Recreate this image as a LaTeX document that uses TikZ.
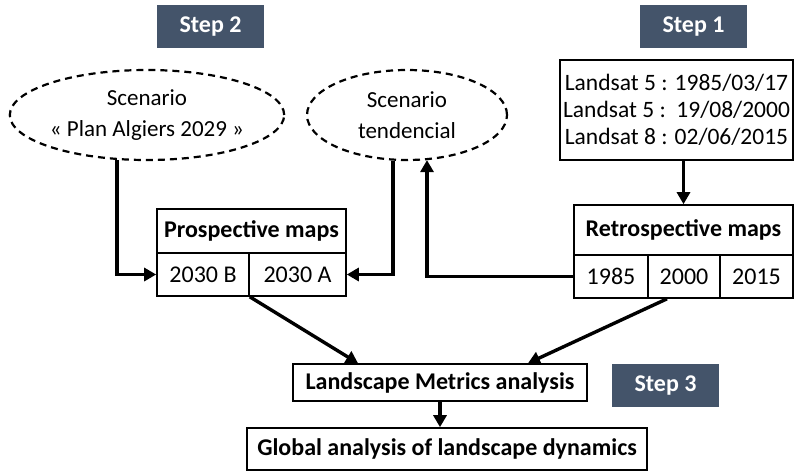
\documentclass[tikz,border=0pt]{standalone}
\usepackage{fontspec}
\setmainfont{Carlito}
\usetikzlibrary{arrows.meta,shapes.geometric,calc}
\definecolor{stepblue}{HTML}{44546A}
\begin{document}
\begin{tikzpicture}[x=1pt,y=-1pt,
  stepbox/.style={fill=stepblue,text=white,font=\fontsize{24}{26}\selectfont\bfseries,minimum width=107pt,minimum height=43pt,inner sep=0pt},
  cell/.style={draw,line width=1.6pt,inner sep=0pt,font=\fontsize{24}{27}\selectfont},
  hcell/.style={cell,font=\fontsize{24}{27}\selectfont\bfseries},
  scen/.style={ellipse,draw,line width=2.2pt,dash pattern=on 7pt off 5pt,align=center,inner sep=0pt,font=\fontsize{23}{31}\selectfont},
  arr/.style={-{Triangle[length=12pt,width=13pt]},line width=3.4pt}]
\useasboundingbox (0,0) rectangle (795,472);
% steps
\node[stepbox] (s2) at (210.5,26.5) {Step 2};
\node[stepbox] (s1) at (693.5,26.5) {Step 1};
\node[stepbox] (s3) at (665.5,385.5) {Step 3};
% scenarios
\node[scen,minimum width=268pt,minimum height=90pt] (e1) at (147,115) {Scenario\\« Plan Algiers 2029 »};
\node[scen,minimum width=200pt,minimum height=90pt] (e2) at (407,115) {Scenario\\tendencial};
% landsat
\node[cell,minimum width=233pt,minimum height=100pt,align=center,font=\fontsize{23.5}{27}\selectfont] (ls) at (676.5,110)
  {Landsat 5 : 1985/03/17\\Landsat 5 :\ \ 19/08/2000\\Landsat 8 : 02/06/2015};
% prospective maps
\node[hcell,minimum width=189pt,minimum height=44pt] (pm) at (251.5,231) {Prospective maps};
\node[cell,minimum width=92pt,minimum height=43pt] (pb) at (203,274.5) {2030 B};
\node[cell,minimum width=97pt,minimum height=43pt] (pa) at (297.5,274.5) {2030 A};
% retrospective maps
\node[hcell,minimum width=219pt,minimum height=50pt] (rm) at (683.5,230) {Retrospective maps};
\node[cell,minimum width=74pt,minimum height=43pt] (r85) at (611,276.5) {1985};
\node[cell,minimum width=72pt,minimum height=43pt] (r00) at (684,276.5) {2000};
\node[cell,minimum width=73pt,minimum height=43pt] (r15) at (756.5,276.5) {2015};
% analysis
\node[hcell,minimum width=294pt,minimum height=37pt] (lm) at (440,382.5) {Landscape Metrics analysis};
\node[hcell,minimum width=400pt,minimum height=42pt] (gl) at (447,449) {Global analysis of landscape dynamics};
% connectors
\draw[arr] ($(e1.south)+(-30,-1)$) |- (pb.west);
\draw[arr] ($(e2.south)+(-14,0)$) |- (pa.east);
\draw[arr] (r85.west) -| ($(e2.south)+(20,-1)$);
\draw[arr] (rm.north |- ls.south) -- (rm.north);
\draw[arr] (pb.south east) -- ($(lm.north)+(-82,0)$);
\draw[arr] ($(r00.south)+(-17,0)$) -- ($(lm.north)+(88,0)$);
\draw[arr] (lm.south) -- (lm.south |- gl.north);
\end{tikzpicture}
\end{document}
